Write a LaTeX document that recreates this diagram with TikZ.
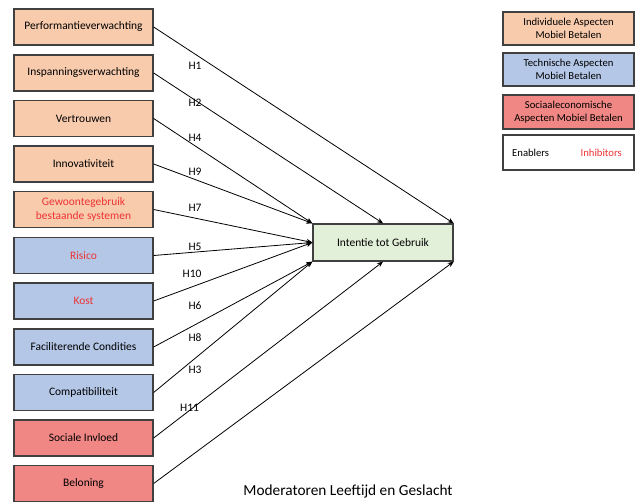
\documentclass[tikz,border=0pt]{standalone}
\usepackage{fontspec}
\setmainfont{Carlito}
\usetikzlibrary{arrows.meta}
\definecolor{indiv}{HTML}{F8CBAD}
\definecolor{techn}{HTML}{B4C7E7}
\definecolor{socio}{HTML}{F08784}
\definecolor{centr}{HTML}{E2EFD9}
\definecolor{bord}{HTML}{404040}
\definecolor{inhib}{HTML}{EE3333}
\begin{document}
\begin{tikzpicture}[x=1bp,y=-1bp,
  box/.style={draw=bord,line width=1.3bp,minimum width=139bp,minimum height=36bp,inner sep=1bp,align=center,font=\fontsize{11.5}{13.5}\selectfont},
  ibox/.style={box,fill=indiv},
  tbox/.style={box,fill=techn},
  sbox/.style={box,fill=socio},
  lbox/.style={draw=bord,line width=1.3bp,minimum width=131bp,inner sep=1bp,align=center,font=\fontsize{10.7}{12.7}\selectfont},
  hyp/.style={font=\fontsize{11.5}{13.5}\selectfont,inner sep=0pt},
  conn/.style={draw=black,line width=0.8bp,-{Stealth[length=6bp,width=5bp]}},
  inh/.style={text=inhib}]
\useasboundingbox (0,0) rectangle (638,502);
% left boxes
\node[ibox] (b1) at (83.5,27) {Performantieverwachting};
\node[ibox] (b2) at (83.5,73) {Inspanningsverwachting};
\node[ibox] (b3) at (83.5,118.5) {Vertrouwen};
\node[ibox] (b4) at (83.5,164) {Innovativiteit};
\node[ibox,inh] (b5) at (83.5,209.5) {Gewoontegebruik\\bestaande systemen};
\node[tbox,inh] (b6) at (83.5,255.5) {Risico};
\node[tbox,inh] (b7) at (83.5,301) {Kost};
\node[tbox] (b8) at (83.5,347) {Faciliterende Condities};
\node[tbox] (b9) at (83.5,392.5) {Compatibiliteit};
\node[sbox] (b10) at (83.5,438) {Sociale Invloed};
\node[sbox] (b11) at (83.5,483.5) {Beloning};
% centre
\node[box,fill=centr,minimum width=140bp,minimum height=37bp] (c) at (383,242.5) {Intentie tot Gebruik};
% connectors
\draw[conn] (b1.east) -- (c.north east);
\draw[conn] (b2.east) -- (c.north);
\draw[conn] (b3.east) -- (c.north west);
\draw[conn] (b4.east) -- (c.north west);
\draw[conn] (b5.east) -- (c.west);
\draw[conn] (b6.east) -- (c.west);
\draw[conn] (b7.east) -- (c.west);
\draw[conn] (b8.east) -- (c.south west);
\draw[conn] (b9.east) -- (c.south west);
\draw[conn] (b10.east) -- (c.south);
\draw[conn] (b11.east) -- (c.south east);
% hypothesis labels
\node[hyp] (h1) at (195,66) {H1};
\node[hyp] (h2) at (195,103) {H2};
\node[hyp] (h4) at (195,138) {H4};
\node[hyp] (h9) at (195,172) {H9};
\node[hyp] (h7) at (195,208) {H7};
\node[hyp] (h5) at (195,246.5) {H5};
\node[hyp] (h10) at (192,274) {H10};
\node[hyp] (h6) at (195,306) {H6};
\node[hyp] (h8) at (195,338) {H8};
\node[hyp] (h3) at (195,370) {H3};
\node[hyp] (h11) at (189.5,407.5) {H11};
% legend
\node[lbox,fill=indiv,minimum height=33bp] (l1) at (568.5,28.5) {Individuele Aspecten\\Mobiel Betalen};
\node[lbox,fill=techn,minimum height=33bp] (l2) at (568.5,69.5) {Technische Aspecten\\Mobiel Betalen};
\node[lbox,fill=socio,minimum height=34bp] (l3) at (568.5,112) {Sociaaleconomische\\Aspecten Mobiel Betalen};
\node[lbox,fill=white,minimum height=35bp] (l4) at (568.5,152.5) {};
\node[anchor=west,inner sep=0pt,font=\fontsize{10.7}{12.7}\selectfont] (en) at (512,153) {Enablers};
\node[anchor=east,inner sep=0pt,font=\fontsize{10.7}{12.7}\selectfont,text=inhib] (in) at (622,153) {Inhibitors};
% moderators
\node[inner sep=0pt,font=\fontsize{15.4}{18}\selectfont] (mod) at (348,491) {Moderatoren Leeftijd en Geslacht};
\end{tikzpicture}
\end{document}
